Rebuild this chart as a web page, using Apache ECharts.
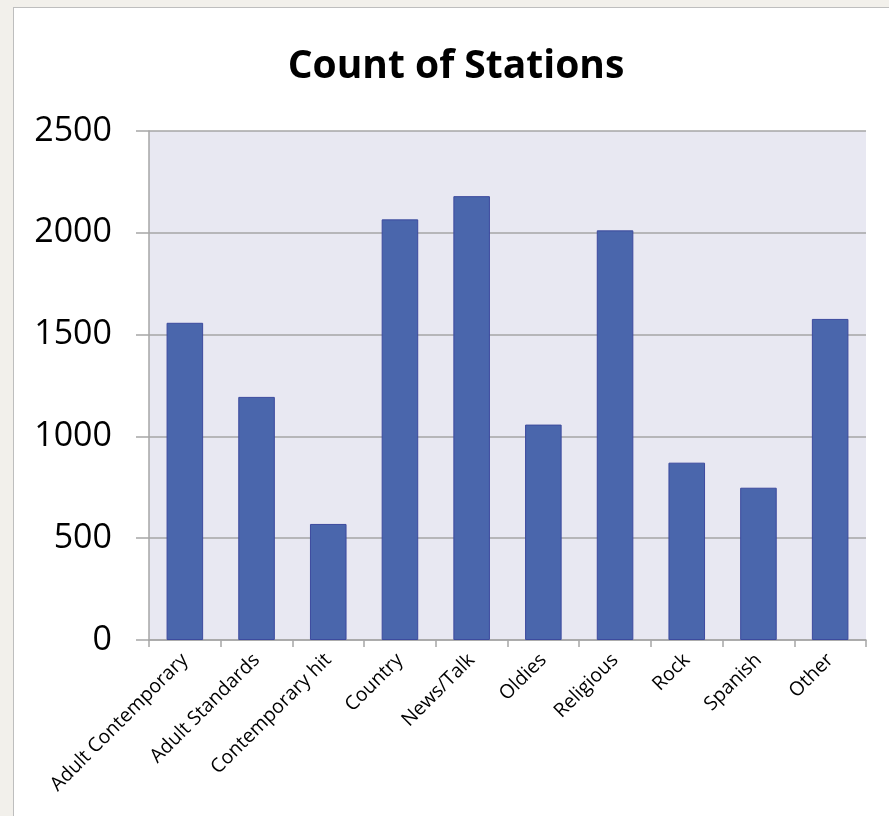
<!DOCTYPE html>
<html>
<head>
<meta charset="utf-8">
<script src="https://cdn.jsdelivr.net/npm/echarts@6/dist/echarts.min.js"></script>
<style>
  html, body { margin: 0; padding: 0; background: #F2F0EB; }
  #frame {
    position: absolute; left: 13px; top: 7px; width: 900px; height: 900px;
    background: #FFFFFF; border: 1px solid #BEBEBE; box-sizing: border-box;
  }
  #chart { position: absolute; left: 0; top: 0; width: 889px; height: 816px; }
</style>
</head>
<body>
<div id="frame"></div>
<div id="chart"></div>
<script>
// Station counts by format
const categories = ['Adult Contemporary', 'Adult Standards', 'Contemporary hit', 'Country',
  'News/Talk', 'Oldies', 'Religious', 'Rock', 'Spanish', 'Other'];
const stationCounts = [1558, 1194, 570, 2066, 2180, 1058, 2012, 871, 748, 1577];
const yTicks = [0, 500, 1000, 1500, 2000, 2500];

const FONT = '"Open Sans"';
const chart = echarts.init(document.getElementById('chart'), null, { renderer: 'canvas' });

chart.setOption({
  backgroundColor: 'transparent',
  animation: false,
  title: {
    text: 'Count of Stations',
    left: 451,
    textAlign: 'center',
    top: 42,
    textStyle: { fontFamily: FONT, fontWeight: 'bold', fontSize: 39, color: '#000000' }
  },
  grid: {
    left: 149, top: 131, right: 23, bottom: 176,
    show: true, backgroundColor: '#E8E8F2', borderWidth: 0
  },
  xAxis: {
    type: 'category',
    data: categories,
    axisLine: { show: true, lineStyle: { color: '#A6A6A6', width: 1.5 } },
    axisTick: { show: true, alignWithLabel: false, length: 7, lineStyle: { color: '#A6A6A6', width: 1.5 } },
    axisLabel: {
      rotate: 45, interval: 0, margin: 17,
      fontFamily: FONT, fontSize: 19.5, color: '#000000'
    }
  },
  yAxis: {
    type: 'value',
    min: yTicks[0], max: yTicks[yTicks.length - 1], interval: 500,
    axisLine: { show: true, lineStyle: { color: '#A6A6A6', width: 1.5 } },
    axisTick: { show: true, inside: false, length: 13, lineStyle: { color: '#A6A6A6', width: 1.5 } },
    axisLabel: {
      margin: 37, fontFamily: FONT, fontSize: 34, color: '#000000',
      formatter: v => String(v)
    },
    splitLine: { show: true, lineStyle: { color: '#A6A6A6', width: 1.5 } }
  },
  series: [{
    type: 'bar',
    data: stationCounts,
    barWidth: '51%',
    itemStyle: { color: '#4A66AC', borderColor: '#3C4A9E', borderWidth: 1 }
  }]
});
</script>
</body>
</html>
